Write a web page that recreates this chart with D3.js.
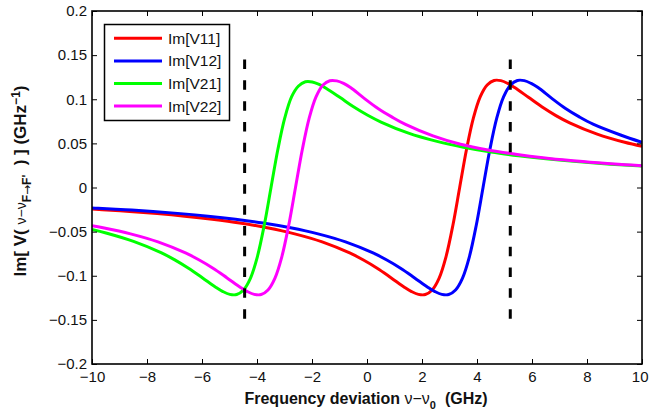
<!DOCTYPE html>
<html>
<head>
<meta charset="utf-8">
<script src="https://cdn.jsdelivr.net/npm/d3@7"></script>
<style>
  html, body { margin: 0; padding: 0; background: #fff; }
  svg { display: block; font-family: "Liberation Sans", Arial, Helvetica, sans-serif; }
  text { white-space: pre; }
</style>
</head>
<body>
<svg id="chart" width="649" height="414"></svg>
<script>
// Frequency samples (GHz) and Im[V] values (GHz^-1) for each transition pair
const xV11 = [-10, -9.63, -8.63, -7.63, -6.63, -5.63, -4.63, -3.63, -2.63, -1.63,
  -0.63, -0.13, 0.37, 0.87, 1.37, 1.62, 1.87, 2.12, 2.37, 2.62,
  2.87, 3.12, 3.37, 3.62, 3.87, 4.12, 4.37, 4.62, 4.87, 5.12,
  5.37, 5.87, 6.37, 6.87, 7.37, 8.37, 9.37, 10];
const yV11 = [-0.0245, -0.0252, -0.0272, -0.0296, -0.0325, -0.0360, -0.0402, -0.0456, -0.0525, -0.0616,
  -0.0742, -0.0822, -0.0915, -0.1022, -0.1132, -0.1179, -0.1211, -0.1213, -0.1161, -0.1029,
  -0.0788, -0.0433, 0, 0.0433, 0.0788, 0.1029, 0.1161, 0.1213, 0.1211, 0.1179,
  0.1132, 0.1022, 0.0912, 0.0815, 0.0733, 0.0605, 0.0512, 0.0467];

const xV12 = [-10, -9.78, -8.78, -7.78, -6.78, -5.78, -4.78, -3.78, -2.78, -1.78,
  -0.78, 0.22, 0.72, 1.22, 1.72, 2.22, 2.47, 2.72, 2.97, 3.22,
  3.47, 3.72, 3.97, 4.22, 4.47, 4.72, 4.97, 5.22, 5.47, 5.72,
  5.97, 6.22, 6.72, 7.22, 7.72, 8.22, 9.22, 10];
const yV12 = [-0.0231, -0.0234, -0.0252, -0.0272, -0.0296, -0.0325, -0.0360, -0.0402, -0.0456, -0.0525,
  -0.0616, -0.0742, -0.0822, -0.0915, -0.1022, -0.1132, -0.1179, -0.1211, -0.1213, -0.1161,
  -0.1029, -0.0788, -0.0433, 0, 0.0433, 0.0788, 0.1029, 0.1161, 0.1213, 0.1211,
  0.1179, 0.1132, 0.1010, 0.0895, 0.0800, 0.0718, 0.0595, 0.0512];

const xV21 = [-10, -9.49, -8.49, -7.49, -6.99, -6.49, -5.99, -5.49, -5.24, -4.99,
  -4.74, -4.49, -4.24, -3.99, -3.74, -3.49, -3.24, -2.99, -2.74, -2.49,
  -2.24, -1.99, -1.74, -1.49, -0.99, -0.49, 0.01, 0.51, 1.51, 2.51,
  3.51, 4.51, 5.51, 6.51, 7.51, 8.51, 9.51, 10];
const yV21 = [-0.0475, -0.0515, -0.0610, -0.0738, -0.0820, -0.0915, -0.1022, -0.1132, -0.1179, -0.1211,
  -0.1213, -0.1161, -0.1029, -0.0788, -0.0433, 0, 0.0433, 0.0788, 0.1029, 0.1150,
  0.1198, 0.1196, 0.1168, 0.1125, 0.1022, 0.0915, 0.0822, 0.0742, 0.0616, 0.0525,
  0.0456, 0.0402, 0.0360, 0.0325, 0.0296, 0.0272, 0.0252, 0.0243];

const xV22 = [-10, -9.6, -8.6, -7.6, -6.6, -6.1, -5.6, -5.1, -4.6, -4.35,
  -4.1, -3.85, -3.6, -3.35, -3.1, -2.85, -2.6, -2.35, -2.1, -1.85,
  -1.6, -1.35, -1.1, -0.85, -0.6, -0.1, 0.4, 0.9, 1.4, 2.4,
  3.4, 4.4, 5.4, 6.4, 7.4, 8.4, 9.4, 10];
const yV22 = [-0.0433, -0.0456, -0.0525, -0.0616, -0.0742, -0.0822, -0.0915, -0.1022, -0.1132, -0.1179,
  -0.1211, -0.1213, -0.1161, -0.1029, -0.0788, -0.0433, 0, 0.0433, 0.0788, 0.1029,
  0.1161, 0.1210, 0.1208, 0.1179, 0.1132, 0.1010, 0.0895, 0.0800, 0.0715, 0.0585,
  0.0490, 0.0425, 0.0378, 0.0338, 0.0306, 0.0280, 0.0258, 0.0247];

const seriesNames = ["Im[V11]", "Im[V12]", "Im[V21]", "Im[V22]"];
const seriesColors = ["#ff0000", "#0000ff", "#00ff00", "#ff00ff"];

// Vertical dashed reference lines (GHz) and their vertical extent
const markerX = [-4.45, 5.21];
const markerY = [0.145, -0.151];

const xTicks = [-10, -8, -6, -4, -2, 0, 2, 4, 6, 8, 10];
const xTickLabels = ["\u221210", "\u22128", "\u22126", "\u22124", "\u22122", "0", "2", "4", "6", "8", "10"];
const yTicks = [-0.2, -0.15, -0.1, -0.05, 0, 0.05, 0.1, 0.15, 0.2];
const yTickLabels = ["\u22120.2", "\u22120.15", "\u22120.1", "\u22120.05", "0", "0.05", "0.1", "0.15", "0.2"];

const W = 649;
const svg = d3.select("#chart");
const plotL = 92, plotR = 642, plotT = 11, plotB = 364;

const x = d3.scaleLinear().domain([-10, 10]).range([plotL, plotR]);
const y = d3.scaleLinear().domain([-0.2, 0.2]).range([plotB, plotT]);

const series = [
  { name: seriesNames[0], color: seriesColors[0], pts: d3.zip(xV11, yV11) },
  { name: seriesNames[1], color: seriesColors[1], pts: d3.zip(xV12, yV12) },
  { name: seriesNames[2], color: seriesColors[2], pts: d3.zip(xV21, yV21) },
  { name: seriesNames[3], color: seriesColors[3], pts: d3.zip(xV22, yV22) }
];

svg.append("defs").append("clipPath").attr("id", "plotclip")
  .append("rect").attr("x", plotL).attr("y", plotT)
  .attr("width", plotR - plotL).attr("height", plotB - plotT);

const line = d3.line()
  .x(d => x(d[0]))
  .y(d => y(d[1]))
  .curve(d3.curveCatmullRom.alpha(0.5));

const plot = svg.append("g").attr("clip-path", "url(#plotclip)");

plot.selectAll("path.series")
  .data(series)
  .join("path")
  .attr("class", "series")
  .attr("fill", "none")
  .attr("stroke", d => d.color)
  .attr("stroke-width", 3)
  .attr("stroke-linejoin", "round")
  .attr("d", d => line(d.pts));

// dashed markers
plot.selectAll("line.marker")
  .data(markerX)
  .join("line")
  .attr("class", "marker")
  .attr("x1", d => x(d)).attr("x2", d => x(d))
  .attr("y1", y(markerY[0])).attr("y2", y(markerY[1]))
  .attr("stroke", "#000")
  .attr("stroke-width", 3)
  .attr("stroke-dasharray", "9.5,11.3");

// Axes with inward ticks on all four sides
const fmtX = d => xTickLabels[xTicks.indexOf(d)];
const fmtY = d => yTickLabels[yTicks.indexOf(d)];

const gx = svg.append("g").attr("transform", `translate(0,${plotB})`)
  .call(d3.axisBottom(x).tickValues(xTicks).tickFormat(fmtX).tickSizeInner(-5).tickSizeOuter(0).tickPadding(7));
const gy = svg.append("g").attr("transform", `translate(${plotL},0)`)
  .call(d3.axisLeft(y).tickValues(yTicks).tickFormat(fmtY).tickSizeInner(-5).tickSizeOuter(0).tickPadding(5));
const gxt = svg.append("g").attr("transform", `translate(0,${plotT})`)
  .call(d3.axisTop(x).tickValues(xTicks).tickFormat("").tickSizeInner(-5).tickSizeOuter(0));
const gyr = svg.append("g").attr("transform", `translate(${plotR},0)`)
  .call(d3.axisRight(y).tickValues(yTicks).tickFormat("").tickSizeInner(-5).tickSizeOuter(0));

[gx, gy, gxt, gyr].forEach(g => {
  g.select(".domain").remove();
  g.selectAll(".tick line").attr("stroke", "#000").attr("stroke-width", 1);
  g.selectAll(".tick text").attr("fill", "#111").attr("font-size", 15)
    .attr("font-family", "'Liberation Sans', Arial, Helvetica, sans-serif");
});

// keep the last x label inside the canvas
gx.selectAll(".tick text").filter(d => d === xTicks[xTicks.length - 1])
  .attr("text-anchor", "end")
  .attr("x", W - 1 - plotR);

svg.append("rect")
  .attr("x", plotL).attr("y", plotT)
  .attr("width", plotR - plotL).attr("height", plotB - plotT)
  .attr("fill", "none").attr("stroke", "#000").attr("stroke-width", 1.6);

// Legend
const lg = svg.append("g");
lg.append("rect")
  .attr("x", 104.5).attr("y", 24.5).attr("width", 125).attr("height", 96)
  .attr("fill", "#fff").attr("stroke", "#000").attr("stroke-width", 1.5);
const rows = lg.selectAll("g.row").data(series).join("g")
  .attr("class", "row")
  .attr("transform", (d, i) => `translate(0,${38.3 + i * 22.6})`);
rows.append("line")
  .attr("x1", 114).attr("x2", 162).attr("y1", 0).attr("y2", 0)
  .attr("stroke", d => d.color).attr("stroke-width", 3);
rows.append("text")
  .attr("x", 168).attr("y", 0).attr("dy", "0.36em")
  .attr("font-size", 15.5).attr("fill", "#111")
  .text(d => d.name);

// X axis title
const xt = svg.append("text")
  .attr("x", 366).attr("y", 404)
  .attr("text-anchor", "middle")
  .attr("font-size", 16).attr("font-weight", "bold").attr("fill", "#111");
xt.append("tspan").text("Frequency deviation ");
xt.append("tspan").attr("font-weight", "normal").text("\u03bd\u2212\u03bd");
xt.append("tspan").attr("font-size", 11).attr("dy", 5).text("0");
xt.append("tspan").attr("dy", -5).text("  (GHz)");

// Y axis title
const yt = svg.append("text")
  .attr("transform", "translate(26,181) rotate(-90)")
  .attr("text-anchor", "middle")
  .attr("font-size", 17).attr("font-weight", "bold").attr("fill", "#111");
yt.append("tspan").text("Im[ V( ");
yt.append("tspan").attr("font-weight", "normal").attr("font-size", 14).text("\u03bd\u2212\u03bd");
yt.append("tspan").attr("font-size", 12).attr("dy", 5).text("F");
yt.append("tspan").attr("font-size", 12).attr("font-family", "'DejaVu Sans', sans-serif").attr("font-weight", "normal").text("\u2192");
yt.append("tspan").attr("font-size", 12).text("F'");
yt.append("tspan").attr("dy", -5).text("  ) ] (GHz");
yt.append("tspan").attr("font-size", 12).attr("dy", -6).text("\u22121");
yt.append("tspan").attr("dy", 6).text(")");
</script>
</body>
</html>
